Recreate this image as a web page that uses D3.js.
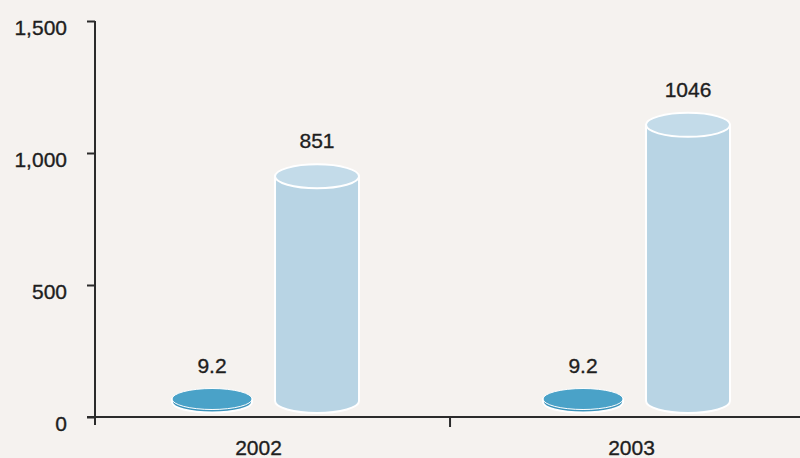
<!DOCTYPE html>
<html>
<head>
<meta charset="utf-8">
<script src="https://cdn.jsdelivr.net/npm/d3@7"></script>
<style>
  html, body { margin: 0; padding: 0; background: #f5f2ef; }
  svg { display: block; font-family: "Liberation Sans", Arial, sans-serif; }
  text { stroke: #1e1e1e; stroke-width: 0.35px; }
</style>
</head>
<body>
<div class="chart"></div>
<script>
// data
const years = ["2002", "2003"];
const series = ["small", "large"];
const smallValues = [9.2, 9.2];
const largeValues = [851, 1046];
const valueLabels = [["9.2", "851"], ["9.2", "1046"]];
const yTicks = [0, 500, 1000, 1500];

let svg = d3.select(".chart").append("svg").attr("width", 800).attr("height", 458),
    margin = {top: 21, right: 0, bottom: 41, left: 95},
    width = +svg.attr("width"),
    height = +svg.attr("height");

let y = d3.scaleLinear()
    .domain([0, 1500])
    .range([height - margin.bottom, margin.top]);

let x0 = d3.scaleBand()
    .domain(years)
    .range([margin.left, 837]);

let x1 = d3.scalePoint()
    .domain(series)
    .range([0, x0.bandwidth()])
    .padding(1.267)
    .align(0.44);

let rows = years.map((yr, i) => ({
  year: yr,
  items: [
    {key: "small", value: smallValues[i], label: valueLabels[i][0]},
    {key: "large", value: largeValues[i], label: valueLabels[i][1]}
  ]
}));

const baseLift = 16; // cylinders sit slightly above the axis line
const colors = {
  small: {side: "#3b93bb", top: "#4aa2c8"},
  large: {side: "#b8d4e4", top: "#c3dbe9"}
};

// axes
let yAxis = svg.append("g")
    .attr("transform", `translate(${margin.left},0)`)
    .call(d3.axisLeft(y).tickValues(yTicks).tickSize(8).tickPadding(20).tickFormat(d3.format(",")));
yAxis.select(".domain").remove();
yAxis.append("line")
    .attr("x1", 0).attr("x2", 0)
    .attr("y1", y(1500)).attr("y2", y(0) + 8)
    .attr("stroke", "#2b2b2b").attr("stroke-width", 2);
yAxis.selectAll(".tick line").attr("stroke", "#2b2b2b").attr("stroke-width", 2);
yAxis.selectAll(".tick text")
    .attr("fill", "#1e1e1e")
    .attr("font-size", 21)
    .attr("dy", "0.62em");

svg.append("line")
    .attr("x1", margin.left - 8).attr("x2", width)
    .attr("y1", y(0)).attr("y2", y(0))
    .attr("stroke", "#2b2b2b").attr("stroke-width", 2);

// divider tick halfway between neighbouring cylinders of adjacent years
svg.selectAll(".xtick")
    .data(years.slice(1))
    .enter().append("line")
    .attr("class", "xtick")
    .attr("x1", (d, i) => (x0(years[i]) + x1("large") + x0(d) + x1("small")) / 2)
    .attr("x2", (d, i) => (x0(years[i]) + x1("large") + x0(d) + x1("small")) / 2)
    .attr("y1", y(0)).attr("y2", y(0) + 10)
    .attr("stroke", "#2b2b2b").attr("stroke-width", 2);

svg.selectAll(".xlabel")
    .data(years)
    .enter().append("text")
    .attr("class", "xlabel")
    .attr("x", (d, i) => x0(d) + (x1("small") + x1("large")) / 2 - 6 + i * 2)
    .attr("y", height - 3)
    .attr("text-anchor", "middle")
    .attr("font-size", 21)
    .attr("fill", "#1e1e1e")
    .text(d => d);

// cylinders
let group = svg.selectAll(".year")
    .data(rows)
    .enter().append("g")
    .attr("class", "year")
    .attr("transform", d => `translate(${x0(d.year)},0)`);

let cyl = group.selectAll(".cyl")
    .data(d => d.items)
    .enter().append("g")
    .attr("class", "cyl");

function dims(d) {
  let rx = d.key === "small" ? 40 : 42;
  let ry = d.key === "small" ? 10.5 : 12;
  let cx = x1(d.key);
  let base = y(0) - baseLift;
  let top = y(d.value) - baseLift;
  if (d.key === "small") { base = y(0) - 15; top = base - 3; }
  return {rx, ry, cx, base, top};
}

cyl.append("path")
    .attr("d", d => {
      let {rx, ry, cx, base, top} = dims(d);
      return `M${cx - rx},${top} L${cx - rx},${base} A${rx},${ry} 0 0 0 ${cx + rx},${base} L${cx + rx},${top} Z`;
    })
    .attr("fill", d => colors[d.key].side)
    .attr("stroke", "#ffffff")
    .attr("stroke-width", 2);

cyl.append("ellipse")
    .attr("cx", d => dims(d).cx)
    .attr("cy", d => dims(d).top)
    .attr("rx", d => dims(d).rx)
    .attr("ry", d => dims(d).ry)
    .attr("fill", d => colors[d.key].top)
    .attr("stroke", "#ffffff")
    .attr("stroke-width", d => d.key === "small" ? 1 : 2);

cyl.append("text")
    .attr("x", d => dims(d).cx)
    .attr("y", d => dims(d).top - dims(d).ry - 16)
    .attr("text-anchor", "middle")
    .attr("font-size", 21)
    .attr("fill", "#1e1e1e")
    .text(d => d.label);
</script>
</body>
</html>
